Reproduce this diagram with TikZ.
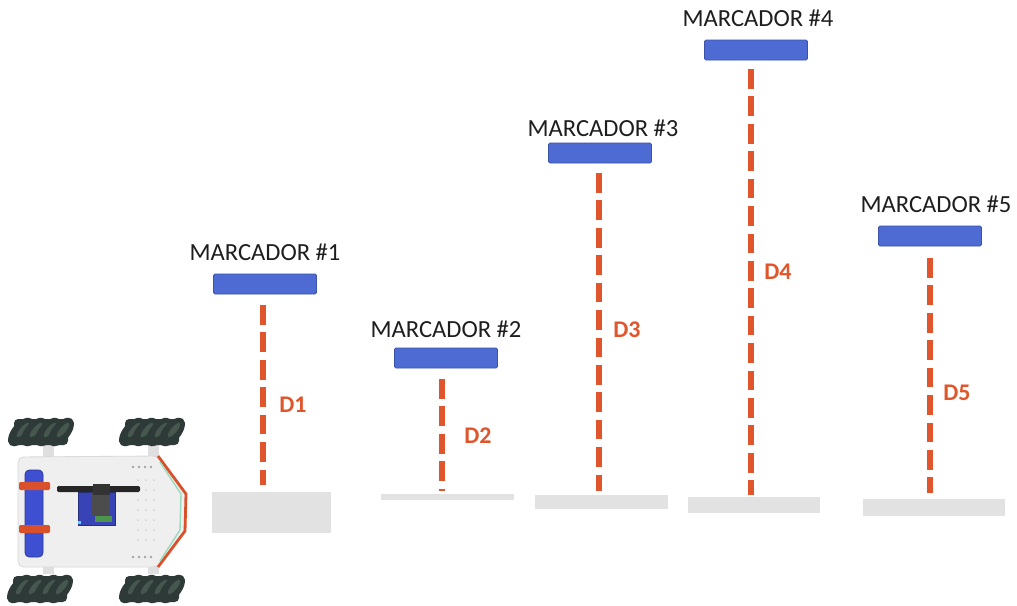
\documentclass[tikz,border=0pt]{standalone}
\usepackage{fontspec}
\setmainfont{Carlito}
\newcommand\pxu{0.025cm}
\definecolor{barBlue}{HTML}{4D6BD3}
\definecolor{barEdge}{HTML}{3A52A8}
\definecolor{distRed}{HTML}{E0552B}
\definecolor{floorGrey}{HTML}{E2E2E2}
\definecolor{labelInk}{HTML}{1E1E1E}
\definecolor{wheelDark}{HTML}{2E3A37}
\definecolor{wheelMid}{HTML}{46574F}
\definecolor{plateGrey}{HTML}{EFEFEF}
\definecolor{plateEdge}{HTML}{DADADA}
\definecolor{battBlue}{HTML}{3E4FD2}
\definecolor{bandRed}{HTML}{D9502B}
\definecolor{servoBlue}{HTML}{3844B5}
\tikzset{
  marker/.style={fill=barBlue, draw=barEdge, line width=0.5pt, inner sep=0pt,
    minimum width=103*\pxu, minimum height=20*\pxu, rounded corners=1pt},
  mlabel/.style={text=labelInk, font=\fontsize{17.5}{20}\selectfont, inner sep=0pt},
  dlabel/.style={text=distRed, font=\fontsize{17}{20}\selectfont\bfseries, inner sep=0pt},
  floorbox/.style={fill=floorGrey, draw=none, inner sep=0pt, anchor=north west},
  dline/.style={draw=distRed, line width=4.3pt, line cap=butt,
    dash pattern=on 14pt off 5.5pt},
}
\begin{document}
\begin{tikzpicture}[x=0.025cm,y=-0.025cm]
\useasboundingbox (0,0) rectangle (1017,605);
\fill[white] (0,0) rectangle (1017,605);

% floor strips under each marker
\node[floorbox, minimum width=119*\pxu, minimum height=41*\pxu] (f1) at (212,492) {};
\node[floorbox, minimum width=133*\pxu, minimum height=6*\pxu]  (f2) at (381,494) {};
\node[floorbox, minimum width=133*\pxu, minimum height=14*\pxu] (f3) at (535,495) {};
\node[floorbox, minimum width=132*\pxu, minimum height=16*\pxu] (f4) at (688,497) {};
\node[floorbox, minimum width=142*\pxu, minimum height=17*\pxu] (f5) at (863,499) {};

% markers
\node[marker] (m1) at (265,284) {};
\node[marker] (m2) at (446,358) {};
\node[marker] (m3) at (600,153) {};
\node[marker] (m4) at (756,50) {};
\node[marker] (m5) at (930,236) {};

% marker captions
\node[mlabel] (l1) at (265,252) {MARCADOR \#1};
\node[mlabel] (l2) at (446,329) {MARCADOR \#2};
\node[mlabel] (l3) at (603,128) {MARCADOR \#3};
\node[mlabel] (l4) at (758,18)  {MARCADOR \#4};
\node[mlabel] (l5) at (936,204) {MARCADOR \#5};

% ends of the distance lines
\coordinate (t1) at (263,305); \coordinate (b1) at (263,485);
\coordinate (t2) at (442,379); \coordinate (b2) at (442,491);
\coordinate (t3) at (599,173); \coordinate (b3) at (599,491);
\coordinate (t4) at (751,69);  \coordinate (b4) at (751,495);
\coordinate (t5) at (930,258); \coordinate (b5) at (930,493);

\draw[dline] (t1) -- (b1);
\draw[dline] (t2) -- (b2);
\draw[dline] (t3) -- (b3);
\draw[dline] (t4) -- (b4);
\draw[dline] (t5) -- (b5);

% distance names
\node[dlabel] (d1) at (293,405) {D1};
\node[dlabel] (d2) at (478,436) {D2};
\node[dlabel] (d3) at (627,330) {D3};
\node[dlabel] (d4) at (778,272) {D4};
\node[dlabel] (d5) at (957,393) {D5};

% ---- mecanum robot, top view ----
% axle stubs
\foreach \ax in {43,148}{
  \fill[gray!25] (\ax,444) rectangle (\ax+11,458);
  \fill[gray!25] (\ax,565) rectangle (\ax+11,574);
}
% wheels with slanted rollers
\foreach \cx/\cy in {41/432,152/432,40/589,152/589}{
  \fill[wheelDark, rounded corners=3pt] (\cx-27,\cy-13) rectangle (\cx+27,\cy+13);
  \foreach \k in {-20,-7,7,20}{
    \fill[wheelDark] (\cx+\k,\cy) ellipse [x radius=9, y radius=17, rotate=-40];
    \fill[wheelMid] (\cx+\k+2,\cy-2) ellipse [x radius=3, y radius=9, rotate=-40];
  }
}
% chassis plate
\filldraw[fill=plateGrey, draw=plateEdge, line width=0.6pt, rounded corners=4pt]
  (18,457) -- (158,456) -- (186,494) -- (185,531) -- (158,567) -- (18,567) -- cycle;
% mounting holes
\foreach \hx in {133,139,145,151}{
  \fill[gray!70] (\hx,467) circle [radius=1.4];
  \fill[gray!70] (\hx,557) circle [radius=1.4];
}
\foreach \hy in {480,490,500,510,520,530,540}{
  \foreach \hx in {138,146,154}{
    \fill[gray!35] (\hx,\hy) circle [radius=1];
  }
}
% front bumper and wiring strip
\draw[bandRed, line width=2pt, line join=round] (158,456) -- (186,494) -- (185,531) -- (158,567);
\draw[cyan!30!green!40, line width=1pt] (160,462) -- (181,494) -- (180,530) -- (160,561);
% battery with straps
\filldraw[fill=battBlue, draw=battBlue!70!black, line width=0.5pt, rounded corners=3pt]
  (25,470) rectangle (43,557);
\fill[bandRed, rounded corners=1pt] (19,482) rectangle (50,490);
\fill[bandRed, rounded corners=1pt] (19,525) rectangle (50,533);
% servo and horn
\filldraw[fill=servoBlue, draw=servoBlue!70!black, line width=0.4pt] (78,492) rectangle (115,525);
\fill[gray!60!black] (92,492) rectangle (110,516);
\fill[green!40!black!70] (95,516) rectangle (112,522);
\fill[cyan!60] (78,521) rectangle (81,524);
\fill[black!85, rounded corners=1pt] (57,486) rectangle (140,492);
\fill[black!80] (93,484) rectangle (110,495);
\end{tikzpicture}
\end{document}
